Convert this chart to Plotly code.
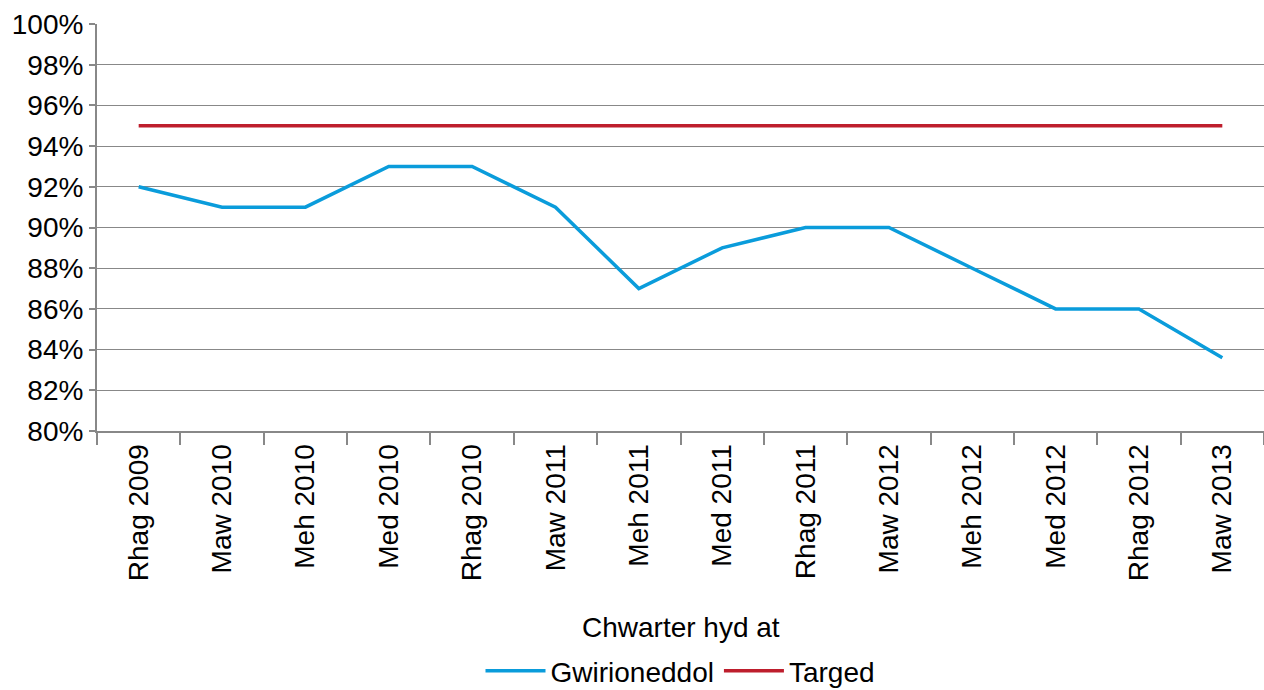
import plotly.graph_objects as go

# Data
quarters = ["Rhag 2009", "Maw 2010", "Meh 2010", "Med 2010", "Rhag 2010", "Maw 2011", "Meh 2011",
            "Med 2011", "Rhag 2011", "Maw 2012", "Meh 2012", "Med 2012", "Rhag 2012", "Maw 2013"]
gwirioneddol = [0.92, 0.91, 0.91, 0.93, 0.93, 0.91, 0.87, 0.89, 0.90, 0.90, 0.88, 0.86, 0.86, 0.836]
targed = [0.95] * len(quarters)

y_ticks = [0.80, 0.82, 0.84, 0.86, 0.88, 0.90, 0.92, 0.94, 0.96, 0.98, 1.00]

font_family = "Liberation Sans, Arial, sans-serif"

fig = go.Figure()
fig.add_trace(go.Scatter(x=quarters, y=gwirioneddol, mode="lines", name="Gwirioneddol",
                         line=dict(color="#0A9CDB", width=3.5)))
fig.add_trace(go.Scatter(x=quarters, y=targed, mode="lines", name="Targed",
                         line=dict(color="#BE1E2D", width=3.5)))

fig.update_layout(
    width=1264, height=690,
    margin=dict(l=97, r=0, t=24, b=259, autoexpand=False),
    paper_bgcolor="white", plot_bgcolor="white",
    font=dict(family=font_family, size=28, color="black"),
    showlegend=True,
    legend=dict(orientation="h", x=0.5, xanchor="center", y=-0.59, yanchor="middle",
                font=dict(size=28), traceorder="normal", itemwidth=60),
    annotations=[dict(text="Chwarter hyd at", x=0.5, xref="paper", y=-0.4816, yref="paper",
                      xanchor="center", yanchor="middle", showarrow=False,
                      font=dict(size=28))],
)

fig.update_xaxes(
    type="category", range=[-0.5, 13.5], tickangle=-90,
    ticks="outside", tickson="boundaries", ticklen=12, tickcolor="#888888", tickwidth=2,
    showline=True, linecolor="#888888", linewidth=2,
    showgrid=False, automargin=False, tickfont=dict(size=28),
)
fig.update_yaxes(
    range=[0.80, 1.00], tickvals=y_ticks, tickformat=".0%",
    ticks="outside", ticklen=6, tickcolor="#888888", tickwidth=2,
    showline=True, linecolor="#888888", linewidth=2,
    showgrid=True, gridcolor="#888888", gridwidth=1,
    zeroline=False, automargin=False, tickfont=dict(size=28),
)

# page flush with the window: no body margin, no scrolling
page_fix = ("document.documentElement.style.overflow='hidden';"
            "document.body.style.margin='0';"
            "document.body.style.overflow='hidden';"
            "document.body.style.height='690px';")
fig.write_html("out.html", config={"displayModeBar": False}, post_script=page_fix)
